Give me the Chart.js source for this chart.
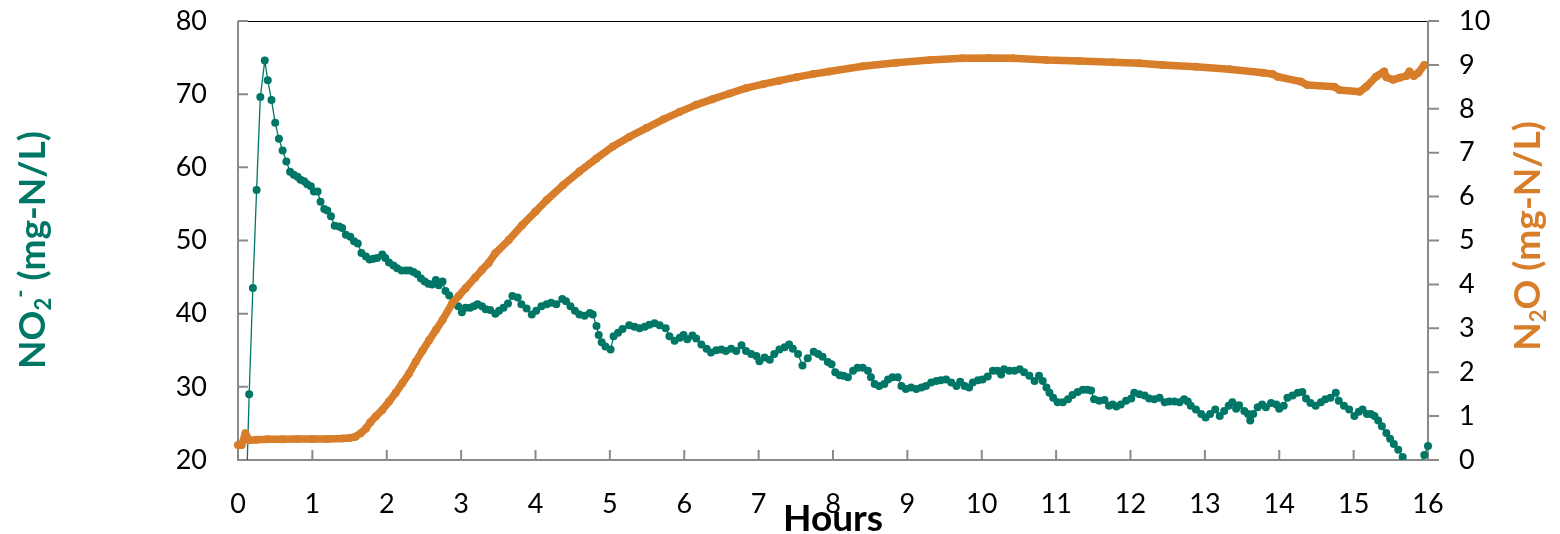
<!DOCTYPE html>
<html>
<head>
<meta charset="utf-8">
<script src="https://cdn.jsdelivr.net/npm/chart.js@4.4.0/dist/chart.umd.min.js"></script>
<style>
  html, body { margin: 0; padding: 0; background: #fff; }
  #wrap { width: 1560px; height: 534px; }
</style>
</head>
<body>
<div id="wrap"><canvas id="chart" width="1560" height="534"></canvas></div>
<script>
// NO2- series (left axis, mg-N/L)
const no2Hours = [
  0.07, 0.15, 0.20, 0.25, 0.30, 0.36, 0.40, 0.45, 0.50, 0.55, 0.60, 0.65, 0.70,
  0.75, 0.80, 0.84, 0.89, 0.93, 0.98, 1.02, 1.07, 1.11, 1.16, 1.20, 1.25, 1.30,
  1.36, 1.40, 1.45, 1.51, 1.56, 1.61, 1.66, 1.72, 1.77, 1.82, 1.87, 1.94, 1.98,
  2.03, 2.09, 2.14, 2.20, 2.26, 2.31, 2.36, 2.41, 2.46, 2.51, 2.56, 2.61, 2.66,
  2.70, 2.75, 2.79, 2.84, 2.90, 2.96, 3.01, 3.06, 3.12, 3.17, 3.22, 3.28, 3.33,
  3.39, 3.46, 3.51, 3.57, 3.63, 3.69, 3.76, 3.81, 3.88, 3.95, 4.01, 4.08, 4.15,
  4.21, 4.28, 4.36, 4.41, 4.47, 4.53, 4.59, 4.66, 4.73, 4.77, 4.82, 4.85, 4.89,
  4.94, 5.01, 5.05, 5.11, 5.17, 5.26, 5.33, 5.40, 5.47, 5.53, 5.60, 5.67, 5.75,
  5.80, 5.87, 5.94, 5.99, 6.04, 6.11, 6.16, 6.23, 6.30, 6.36, 6.43, 6.50, 6.56,
  6.63, 6.70, 6.77, 6.83, 6.90, 6.97, 7.01, 7.08, 7.15, 7.21, 7.28, 7.35, 7.41,
  7.46, 7.53, 7.59, 7.66, 7.74, 7.80, 7.86, 7.93, 7.98, 8.03, 8.09, 8.14, 8.20,
  8.27, 8.33, 8.40, 8.47, 8.51, 8.56, 8.62, 8.69, 8.74, 8.80, 8.87, 8.92, 8.98,
  9.05, 9.12, 9.19, 9.25, 9.32, 9.39, 9.45, 9.52, 9.59, 9.66, 9.71, 9.77, 9.83,
  9.88, 9.95, 10.01, 10.08, 10.15, 10.21, 10.26, 10.30, 10.37, 10.44, 10.51,
  10.57, 10.64, 10.71, 10.77, 10.82, 10.87, 10.91, 10.96, 11.02, 11.09, 11.16,
  11.22, 11.29, 11.36, 11.42, 11.47, 11.51, 11.58, 11.65, 11.71, 11.76, 11.81,
  11.87, 11.94, 12.01, 12.05, 12.12, 12.19, 12.25, 12.32, 12.39, 12.46, 12.52,
  12.59, 12.66, 12.72, 12.77, 12.81, 12.88, 12.95, 13.01, 13.07, 13.14, 13.20,
  13.26, 13.32, 13.37, 13.42, 13.46, 13.53, 13.58, 13.61, 13.65, 13.71, 13.77,
  13.82, 13.89, 13.96, 14.00, 14.06, 14.11, 14.18, 14.25, 14.31, 14.36, 14.42,
  14.49, 14.56, 14.62, 14.69, 14.76, 14.80, 14.87, 14.94, 15.01, 15.07, 15.12,
  15.18, 15.23, 15.28, 15.33, 15.38, 15.44, 15.49, 15.54, 15.60, 15.66, 15.80,
  15.95, 16.00
];
const no2Values = [
  0.0, 29.0, 43.5, 56.9, 69.6, 74.6, 71.9, 69.2, 66.1, 63.9, 62.3, 60.8, 59.4,
  59.0, 58.7, 58.3, 58.1, 57.7, 57.4, 56.7, 56.7, 55.3, 54.3, 54.1, 53.3, 52.0,
  51.9, 51.7, 50.8, 50.5, 49.9, 49.6, 48.3, 47.8, 47.4, 47.5, 47.6, 48.1, 47.6,
  47.0, 46.6, 46.2, 45.9, 45.9, 45.9, 45.7, 45.4, 44.8, 44.4, 44.1, 44.0, 44.6,
  43.9, 44.4, 43.1, 42.5, 41.7, 41.0, 40.2, 40.8, 40.8, 41.0, 41.3, 41.0, 40.6,
  40.5, 40.0, 40.4, 40.8, 41.4, 42.4, 42.2, 41.3, 40.7, 39.9, 40.4, 41.0, 41.3,
  41.5, 41.3, 42.0, 41.7, 41.0, 40.4, 39.9, 39.7, 40.1, 39.9, 38.3, 37.1, 36.1,
  35.5, 35.1, 36.9, 37.4, 37.9, 38.4, 38.2, 38.0, 38.2, 38.5, 38.7, 38.4, 38.0,
  36.9, 36.3, 36.7, 37.1, 36.5, 37.0, 36.6, 35.8, 35.2, 34.7, 35.0, 35.1, 34.9,
  35.2, 34.9, 35.7, 34.9, 34.5, 34.2, 33.5, 34.0, 33.7, 34.5, 35.1, 35.4, 35.8,
  35.2, 34.5, 32.9, 33.9, 34.8, 34.5, 34.1, 33.4, 33.1, 32.0, 31.6, 31.5, 31.3,
  32.2, 32.6, 32.6, 32.2, 31.3, 30.4, 30.1, 30.4, 31.0, 31.3, 31.3, 30.1, 29.7,
  29.9, 29.7, 29.9, 30.1, 30.6, 30.8, 30.9, 31.0, 30.6, 30.1, 30.7, 30.1, 29.9,
  30.6, 30.9, 31.0, 31.4, 32.2, 32.2, 31.7, 32.4, 32.2, 32.2, 32.4,
  32.0, 31.5, 30.8, 31.5, 30.8, 29.9, 29.2, 28.5, 27.9, 27.9, 28.3,
  28.9, 29.3, 29.6, 29.6, 29.5, 28.3, 28.1, 28.2, 27.4, 27.6, 27.3,
  27.6, 28.1, 28.4, 29.2, 29.0, 28.8, 28.4, 28.3, 28.5, 27.9, 28.0,
  28.0, 27.9, 28.3, 28.0, 27.4, 26.9, 26.3, 25.8, 26.3, 26.9, 26.0,
  26.7, 27.4, 27.9, 27.0, 27.5, 26.7, 26.3, 25.4, 26.3, 27.2, 27.6,
  27.2, 27.8, 27.6, 27.0, 27.4, 28.5, 28.8, 29.2, 29.3, 28.4, 27.8,
  27.4, 27.9, 28.3, 28.5, 29.2, 28.1, 27.4, 26.9, 26.0, 26.6, 26.9,
  26.3, 26.3, 26.0, 25.4, 24.6, 23.7, 22.9, 22.2, 21.4, 20.4, 17.0,
  20.7, 21.9
];

// N2O series (right axis, mg-N/L)
const n2oHours = [
  0.00, 0.05, 0.10, 0.15, 0.25, 0.40, 0.60, 0.80, 1.00, 1.20, 1.40, 1.50, 1.58,
  1.65, 1.72, 1.78, 1.85, 1.94, 2.03, 2.12, 2.21, 2.30, 2.39, 2.48, 2.57, 2.66,
  2.75, 2.88, 2.97, 3.06, 3.19, 3.28, 3.37, 3.46, 3.64, 3.82, 4.00, 4.15, 4.37,
  4.59, 4.82, 5.04, 5.26, 5.49, 5.72, 5.94, 6.16, 6.38, 6.61, 6.83, 7.06, 7.28,
  7.51, 7.73, 7.95, 8.40, 8.85, 9.30, 9.74, 10.10, 10.42, 10.87, 11.31, 11.76,
  12.12, 12.43, 12.88, 13.33, 13.78, 13.91, 13.98, 14.29, 14.38, 14.74, 14.81,
  15.08, 15.17, 15.30, 15.41, 15.44, 15.53, 15.62, 15.71, 15.75, 15.81, 15.87,
  15.95
];
const n2oValues = [
  0.34, 0.34, 0.61, 0.45, 0.46, 0.47, 0.47, 0.48, 0.48, 0.48, 0.49, 0.50, 0.53,
  0.61, 0.72, 0.86, 0.99, 1.14, 1.33, 1.53, 1.75, 1.97, 2.24, 2.49, 2.73, 2.96,
  3.19, 3.57, 3.74, 3.91, 4.16, 4.33, 4.49, 4.71, 5.01, 5.35, 5.66, 5.92, 6.26,
  6.57, 6.87, 7.14, 7.36, 7.56, 7.76, 7.93, 8.09, 8.22, 8.35, 8.47, 8.56, 8.64,
  8.72, 8.79, 8.85, 8.97, 9.05, 9.11, 9.15, 9.16, 9.15, 9.11, 9.09, 9.06,
  9.04, 9.00, 8.96, 8.90, 8.82, 8.79, 8.73, 8.62, 8.54, 8.50, 8.43,
  8.39, 8.50, 8.73, 8.85, 8.72, 8.66, 8.71, 8.75, 8.85, 8.75, 8.82,
  9.00
];

const TEAL = "#007766";
const ORANGE = "#d87e2a";
const AXIS_GREY = "#8a8a8a";
const FONT = "Lato, 'Open Sans', sans-serif";

const toXY = (xs, ys) => xs.map((x, i) => ({ x, y: ys[i] }));

// axis lines, tick marks and the thin top border
const axesPlugin = {
  id: "axesPlugin",
  beforeDatasetsDraw(chart) {
    const { ctx, chartArea: a, scales } = chart;
    ctx.save();
    ctx.strokeStyle = "#000";
    ctx.lineWidth = 1.2;
    ctx.beginPath();
    ctx.moveTo(a.left, a.top + 0.5);
    ctx.lineTo(a.right, a.top + 0.5);
    ctx.stroke();

    ctx.strokeStyle = AXIS_GREY;
    ctx.lineWidth = 2;
    ctx.beginPath();
    ctx.moveTo(a.left, a.top);
    ctx.lineTo(a.left, a.bottom);
    ctx.lineTo(a.right, a.bottom);
    ctx.moveTo(a.right, a.top);
    ctx.lineTo(a.right, a.bottom);
    scales.y.ticks.forEach(t => {
      const py = scales.y.getPixelForValue(t.value);
      ctx.moveTo(a.left, py);
      ctx.lineTo(a.left + 10, py);
    });
    scales.y2.ticks.forEach(t => {
      const py = scales.y2.getPixelForValue(t.value);
      ctx.moveTo(a.right, py);
      ctx.lineTo(a.right + 11, py);
    });
    scales.x.ticks.forEach(t => {
      const px = scales.x.getPixelForValue(t.value);
      ctx.moveTo(px, a.bottom);
      ctx.lineTo(px, a.bottom - 10);
    });
    ctx.stroke();
    ctx.restore();
  },
  afterDraw(chart) {
    const { ctx, chartArea: a } = chart;
    ctx.save();
    ctx.textBaseline = "alphabetic";

    // segments: [text, size, baseline shift (+ = down)]
    function drawRich(parts, cx, cy, rot, color) {
      ctx.save();
      ctx.translate(cx, cy);
      ctx.rotate(rot);
      ctx.fillStyle = color;
      let total = 0;
      parts.forEach(p => {
        ctx.font = `bold ${p[1]}px ${FONT}`;
        total += ctx.measureText(p[0]).width;
      });
      let x = -total / 2;
      parts.forEach(p => {
        ctx.font = `bold ${p[1]}px ${FONT}`;
        ctx.fillText(p[0], x, p[2]);
        x += ctx.measureText(p[0]).width;
      });
      ctx.restore();
    }

    drawRich(
      [["NO", 37, 0], ["2", 22, 6], ["-", 22, -17], [" (mg-N/L)", 37, 0]],
      45, 250, -Math.PI / 2, TEAL
    );
    drawRich(
      [["N", 37, 0], ["2", 22, 6], ["O (mg-N/L)", 37, 0]],
      1540, 236, -Math.PI / 2, ORANGE
    );
    drawRich([["Hours", 37, 0]], (a.left + a.right) / 2, 531, 0, "#000");
    ctx.restore();
  }
};

const tickFont = { family: FONT, size: 27 };

// keep the plot box fixed: no extra room reserved for label overhang
const fixVertical = w => s => {
  s.width = w;
  s.paddingTop = 0;
  s.paddingBottom = 0;
};

new Chart(document.getElementById("chart"), {
  type: "scatter",
  data: {
    datasets: [
      {
        label: "NO2-",
        data: toXY(no2Hours, no2Values),
        yAxisID: "y",
        showLine: true,
        borderColor: TEAL,
        borderWidth: 1.3,
        backgroundColor: TEAL,
        pointBackgroundColor: TEAL,
        pointBorderWidth: 0,
        pointRadius: 4,
        order: 2,
        clip: { left: 10, top: 10, right: 10, bottom: 0 },
      },
      {
        label: "N2O",
        data: toXY(n2oHours, n2oValues),
        yAxisID: "y2",
        showLine: true,
        borderColor: ORANGE,
        borderWidth: 7.5,
        borderJoinStyle: "round",
        borderCapStyle: "round",
        backgroundColor: ORANGE,
        pointBackgroundColor: ORANGE,
        pointBorderWidth: 0,
        pointRadius: 4,
        order: 1,
        clip: false,
      },
    ],
  },
  options: {
    responsive: false,
    animation: false,
    events: [],
    layout: { padding: { top: 21, left: 0, right: 0, bottom: 0 } },
    plugins: {
      legend: { display: false },
      tooltip: { enabled: false },
      title: { display: false },
    },
    scales: {
      x: {
        type: "linear",
        min: 0,
        max: 16,
        grid: { display: false, drawTicks: false },
        border: { display: false },
        ticks: { stepSize: 1, color: "#000", font: tickFont, padding: 28, maxRotation: 0 },
        afterFit: s => {
          s.height = 74;
          s.paddingLeft = 0;
          s.paddingRight = 0;
        },
      },
      y: {
        position: "left",
        min: 20,
        max: 80,
        grid: { display: false, drawTicks: false },
        border: { display: false },
        ticks: { stepSize: 10, color: "#000", font: tickFont, padding: 31 },
        afterFit: fixVertical(238),
      },
      y2: {
        position: "right",
        min: 0,
        max: 10,
        grid: { display: false, drawTicks: false },
        border: { display: false },
        ticks: { stepSize: 1, color: "#000", font: tickFont, padding: 31 },
        afterFit: fixVertical(132),
      },
    },
  },
  plugins: [axesPlugin],
});
</script>
</body>
</html>
